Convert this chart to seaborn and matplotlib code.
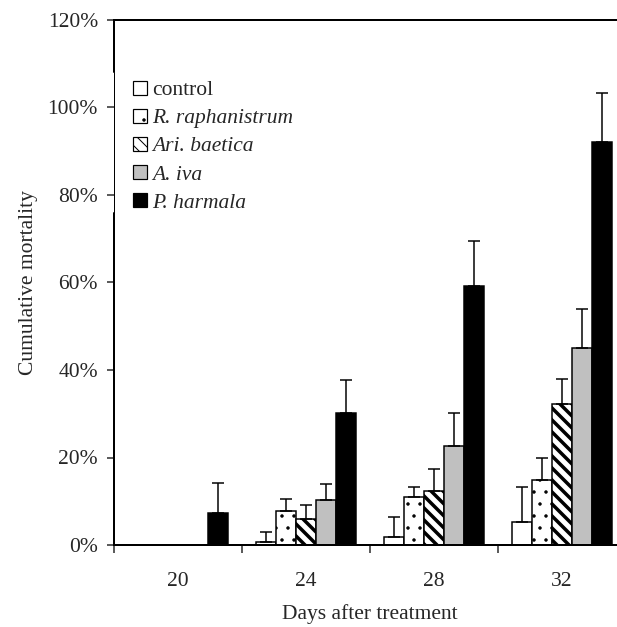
"""
Cumulative mortality by days after treatment, grouped bars with upper error bars.
"""

import numpy as np
import pandas as pd
import matplotlib
matplotlib.use('Agg')
import matplotlib.pyplot as plt
import seaborn as sns
from matplotlib.patches import Patch

# values (percent)
days = ['20', '24', '28', '32']
treatments = ['control', 'R. raphanistrum', 'Ari. baetica', 'A. iva', 'P. harmala']

control = [np.nan, 0.8, 1.9, 5.2]
control_err = [np.nan, 2.2, 4.6, 8.0]
r_raphanistrum = [np.nan, 7.8, 11.0, 14.9]
r_raphanistrum_err = [np.nan, 2.7, 2.2, 4.9]
ari_baetica = [np.nan, 6.0, 12.4, 32.2]
ari_baetica_err = [np.nan, 3.2, 4.9, 5.7]
a_iva = [np.nan, 10.4, 22.6, 45.0]
a_iva_err = [np.nan, 3.5, 7.5, 8.9]
p_harmala = [7.3, 30.2, 59.3, 92.0]
p_harmala_err = [6.9, 7.5, 10.2, 11.2]

yticks = [0, 20, 40, 60, 80, 100, 120]

# styling per treatment
colors = ['white', 'white', 'white', '#C0C0C0', 'black']
hatches = [None, '.', '\\\\', None, None]
hatch_lw = [1.0, 1.0, 3.5, 1.0, 1.0]

values = [control, r_raphanistrum, ari_baetica, a_iva, p_harmala]
errors = [control_err, r_raphanistrum_err, ari_baetica_err, a_iva_err, p_harmala_err]

rows = []
for t, vals, errs in zip(treatments, values, errors):
    for d, v, e in zip(days, vals, errs):
        rows.append({'day': d, 'treatment': t, 'mortality': v, 'err': e})
df = pd.DataFrame(rows).dropna()

sns.set_theme(style='white')
plt.rcParams['font.family'] = ['Liberation Serif', 'DejaVu Serif']
plt.rcParams['hatch.color'] = 'black'
FS = 21.5

fig = plt.figure(figsize=(617 / 72, 627 / 72), dpi=72)
ax = fig.add_axes([114 / 617, 1 - 545 / 627, 512 / 617, 525 / 627])

sns.barplot(data=df, x='day', y='mortality', hue='treatment',
            order=days, hue_order=treatments, palette=colors,
            saturation=1, width=0.78, errorbar=None,
            edgecolor='black', linewidth=1.5, legend=False, ax=ax)


def style_patch(p, hatch, lw):
    if hatch:
        p.set_hatch(hatch)
        if hasattr(p, 'set_hatch_linewidth'):
            p.set_hatch_linewidth(lw)


# hatches + upper error bars
for i, (t, cont) in enumerate(zip(treatments, ax.containers)):
    sub = df[df['treatment'] == t].set_index('day').reindex(days).dropna()
    xs, ys = [], []
    for bar in cont:
        style_patch(bar, hatches[i], hatch_lw[i])
        xs.append(bar.get_x() + bar.get_width() / 2)
        ys.append(bar.get_height())
    errs = sub['err'].values[:len(xs)]
    ax.errorbar(xs, ys, yerr=[np.zeros(len(xs)), errs], fmt='none',
                ecolor='black', elinewidth=1.5, capsize=6, capthick=1.5, zorder=3)

# axes
ax.set_ylim(0, 120)
ax.set_yticks(yticks)
ax.set_yticklabels([f'{v}%' for v in yticks], fontsize=FS)
ax.set_xlim(-0.5, 3.5)
ax.set_xticks([-0.5, 0.5, 1.5, 2.5])
ax.set_xticklabels([])
ax.set_xticks(range(len(days)), minor=True)
ax.set_xticklabels(days, minor=True, fontsize=FS)
ax.tick_params(axis='y', which='major', direction='out', length=7, width=1.5, pad=9, left=True)
ax.tick_params(axis='x', which='major', direction='out', length=8, width=1.5, bottom=True)
ax.tick_params(axis='x', which='minor', length=0, pad=27)

for side in ['bottom', 'top']:
    ax.spines[side].set_visible(True)
    ax.spines[side].set_linewidth(2)
    ax.spines[side].set_color('black')
ax.spines['right'].set_visible(False)
ax.spines['left'].set_visible(False)

# left axis line, thick except where the legend box sits
gap_lo, gap_hi = (545 - 213) / 525, (545 - 72) / 525
ax.axvline(-0.5, 0, gap_lo, color='black', lw=2, clip_on=False, zorder=4)
ax.axvline(-0.5, gap_hi, 1, color='black', lw=2, clip_on=False, zorder=4)
ax.axvline(-0.5, gap_lo, gap_hi, color='black', lw=1, clip_on=False, zorder=4)

ax.set_ylabel('Cumulative mortality', fontsize=FS, labelpad=10)
ax.set_xlabel('Days after treatment', fontsize=FS, labelpad=13)

# legend
handles = []
for i, t in enumerate(treatments):
    h = Patch(facecolor=colors[i], edgecolor='black', linewidth=1.2)
    style_patch(h, hatches[i], 2.0 if hatches[i] == '\\\\' else 1.0)
    handles.append(h)
leg = ax.legend(handles, treatments, loc='upper left', bbox_to_anchor=(0.0155, 0.905),
                frameon=False, fontsize=FS, borderpad=0, handlelength=0.66,
                handleheight=0.62, handletextpad=0.25, labelspacing=0.40)
for txt in leg.get_texts()[1:]:
    txt.set_style('italic')

fig.savefig('out.png', dpi=72)
